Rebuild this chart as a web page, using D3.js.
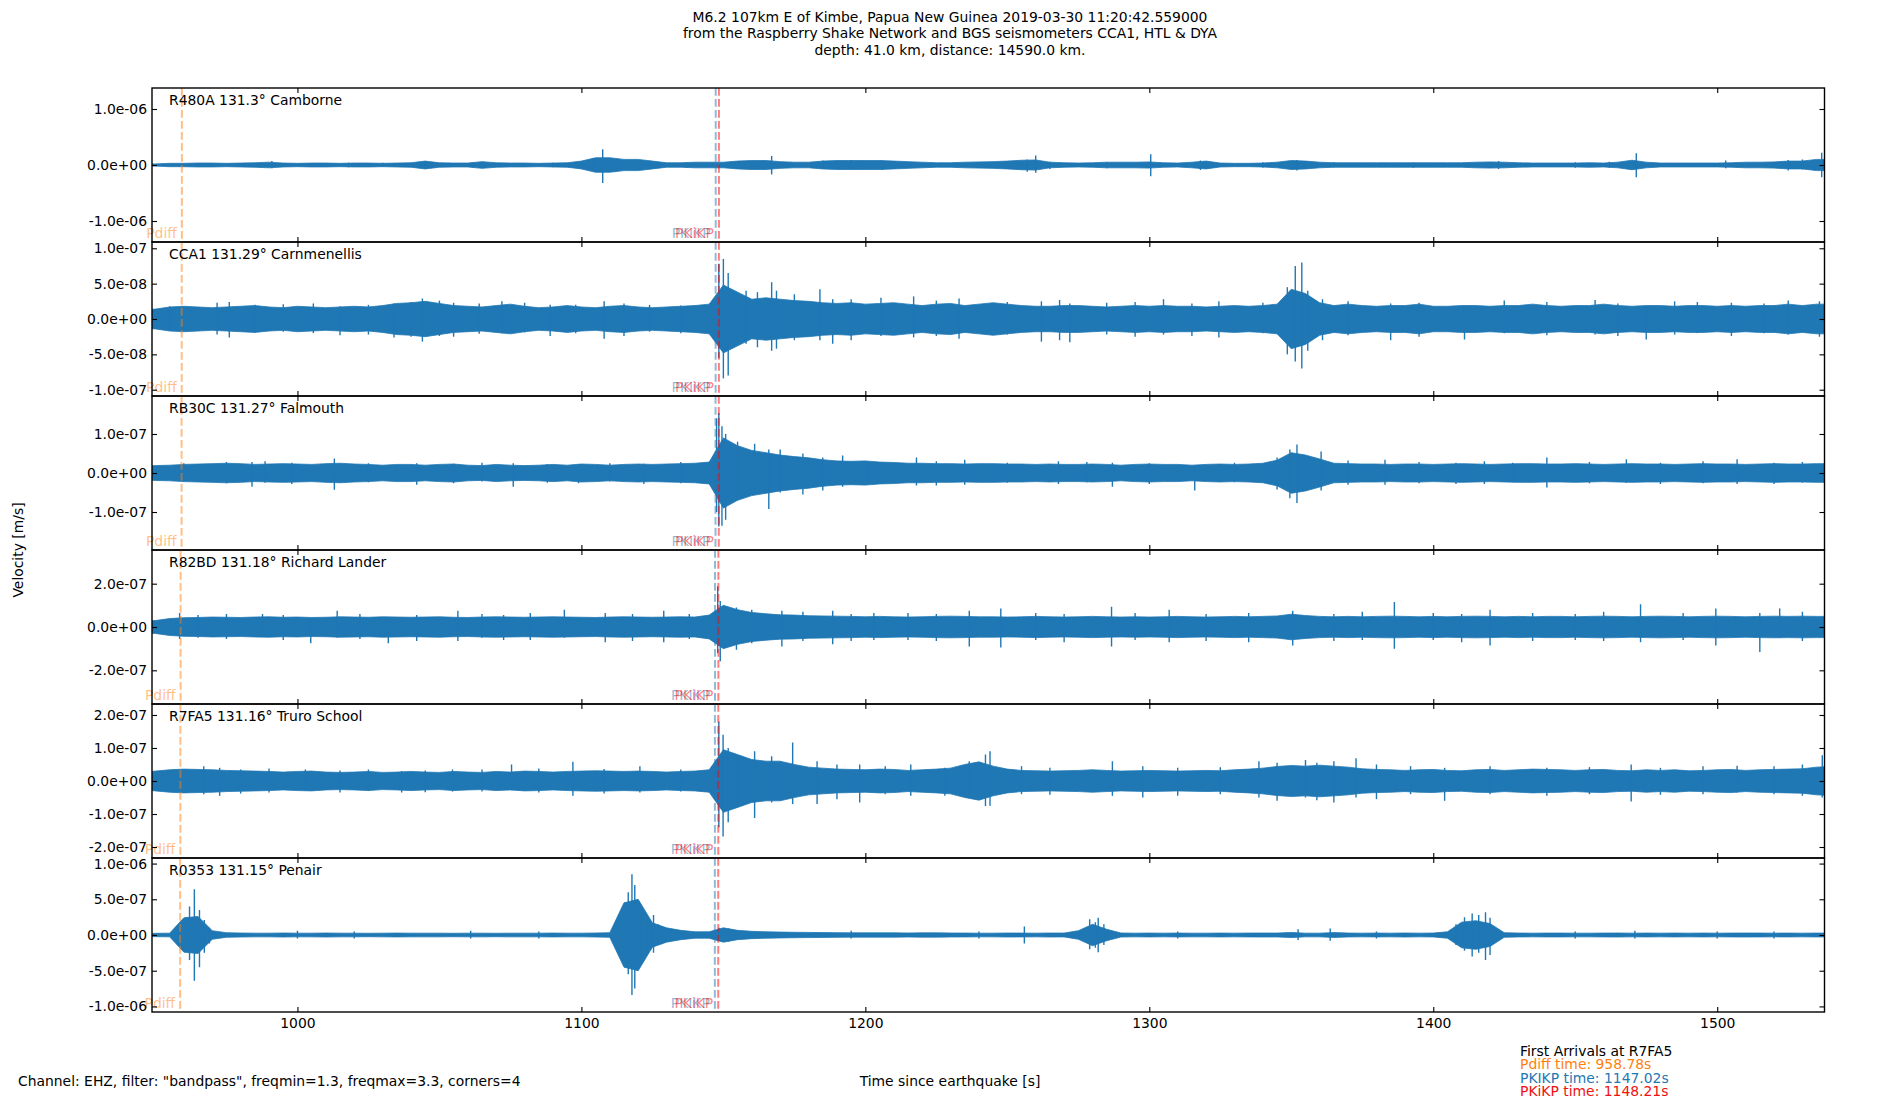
<!DOCTYPE html>
<html>
<head>
<meta charset="utf-8">
<script src="https://cdn.jsdelivr.net/npm/d3@7"></script>
<style>
body { margin: 0; background: #fff; }
text { font-family: "DejaVu Sans", sans-serif; font-size: 13.9px; }
</style>
</head>
<body>
<div id="chart"></div>
<script>
var stations = ["R480A", "CCA1", "RB30C", "R82BD", "R7FA5", "R0353"];
var distances = ["131.3", "131.29", "131.27", "131.18", "131.16", "131.15"];
var places = ["Camborne", "Carnmenellis", "Falmouth", "Richard Lander", "Truro School", "Penair"];

// arrival times [s] per station
var pdiffTimes = [959.3, 959.25, 959.2, 958.85, 958.78, 958.7];
var pkikpTimes = [1147.3, 1147.27, 1147.23, 1147.06, 1147.02, 1147.0];
var pkikpInnerTimes = [1148.43, 1148.42, 1148.38, 1148.24, 1148.21, 1148.19];

var yLimits = [1.375e-6, 1.089e-7, 1.974e-7, 3.556e-7, 2.333e-7, 1.078e-6];
var yTicks = [
    [-1e-6, 0, 1e-6],
    [-1e-7, -5e-8, 0, 5e-8, 1e-7],
    [-1e-7, 0, 1e-7],
    [-2e-7, 0, 2e-7],
    [-2e-7, -1e-7, 0, 1e-7, 2e-7],
    [-1e-6, -5e-7, 0, 5e-7, 1e-6]
];
var xTicks = [1000, 1100, 1200, 1300, 1400, 1500];
var timeRange = [948.78, 1537.78];

// trace envelope half width, in 1e-8 m/s, one value every 5 s starting at 945 s
var envR480A = [
    2, 2, 3, 3, 3.5, 3.5, 3, 3.5, 4, 5, 3.5, 3, 3.5, 3.5, 3, 3.5, 3.5, 3, 3.5, 4,
    7, 4, 3.5, 3.5, 6, 4, 3.5, 3.5, 3, 3.5, 4, 7, 13, 13, 10, 10, 7, 4, 4, 5,
    5, 5, 7, 8, 8, 6, 5, 5, 7, 8, 8, 8, 8, 7, 6, 5, 4, 4, 5, 5.5,
    6, 7, 8.5, 9, 5, 4, 3.5, 4, 5, 5, 5, 5.5, 4, 3.5, 5, 7, 3.5, 3, 3, 3.5,
    5, 8, 7, 5, 4, 4, 4, 4, 4, 4, 4, 4, 4, 4, 5, 5.5, 5, 4, 3.5, 3.5,
    3.5, 3.5, 4, 3.5, 5, 8.5, 5, 3.5, 3.5, 3.5, 3.5, 3.5, 4, 5, 5, 5.5, 7, 7, 10, 10
];
var envCCA1 = [
    1.3, 1.4, 1.7, 1.8, 1.7, 1.6, 1.7, 1.8, 1.9, 1.7, 1.6, 1.8, 1.7, 1.6, 1.7, 1.8, 1.7, 1.9, 2.2, 2.3,
    2.5, 2.2, 1.9, 1.8, 1.7, 1.9, 2.1, 1.8, 1.6, 1.7, 1.9, 1.7, 1.6, 1.8, 1.9, 1.7, 1.6, 1.7, 1.8, 1.9,
    2.1, 4.8, 3.8, 2.8, 3.0, 2.8, 2.6, 2.5, 2.3, 2.2, 2.3, 2.1, 2.2, 2.3, 2.1, 1.9, 2.1, 2.2, 1.9, 2.1,
    2.3, 2.1, 1.9, 1.8, 1.8, 1.9, 1.9, 1.8, 1.7, 1.8, 1.9, 1.8, 1.9, 1.8, 1.8, 1.7, 1.8, 1.9, 1.8, 1.9,
    2.1, 4.2, 3.6, 2.3, 1.9, 2.1, 1.9, 1.8, 1.9, 1.9, 2.1, 1.8, 1.8, 1.9, 1.9, 1.8, 1.9, 1.9, 2.1, 1.9,
    1.8, 1.9, 1.9, 2.1, 1.9, 1.8, 1.9, 1.9, 1.8, 1.9, 1.9, 1.8, 1.9, 1.8, 1.9, 1.9, 2.1, 1.9, 2.1, 2.1
];
var envRB30C = [
    1.8, 1.9, 2.0, 2.2, 2.3, 2.4, 2.5, 2.4, 2.2, 2.3, 2.4, 2.3, 2.2, 2.4, 2.5, 2.3, 2.2, 2.0, 2.2, 2.2,
    2.0, 2.2, 2.3, 2.0, 1.9, 2.2, 2.0, 1.9, 2.0, 2.2, 2.0, 2.3, 2.2, 2.0, 2.2, 2.3, 2.2, 2.3, 2.4, 2.5,
    2.8, 9, 7, 5.8, 5.2, 4.6, 4.2, 3.9, 3.4, 3.1, 3.0, 3.1, 2.8, 2.7, 2.5, 2.5, 2.4, 2.4, 2.3, 2.4,
    2.4, 2.3, 2.3, 2.2, 2.3, 2.2, 2.2, 2.3, 2.2, 2.0, 2.2, 2.3, 2.2, 2.2, 2.0, 2.2, 2.3, 2.2, 2.3, 2.5,
    3.3, 5.2, 4.6, 3.6, 2.5, 2.4, 2.3, 2.3, 2.2, 2.3, 2.3, 2.2, 2.3, 2.4, 2.3, 2.2, 2.3, 2.4, 2.4, 2.3,
    2.3, 2.4, 2.3, 2.2, 2.3, 2.4, 2.3, 2.3, 2.2, 2.3, 2.4, 2.3, 2.3, 2.2, 2.3, 2.4, 2.3, 2.3, 2.4, 2.4
];
var envR82BD = [
    2.7, 3.0, 3.9, 4.3, 4.4, 4.6, 4.5, 4.4, 4.6, 4.7, 4.5, 4.6, 4.4, 4.5, 4.7, 4.6, 4.5, 4.7, 4.6, 4.5,
    4.6, 4.7, 4.5, 4.4, 4.6, 4.7, 4.6, 4.5, 4.6, 4.7, 4.6, 4.5, 4.4, 4.6, 4.7, 4.6, 4.5, 4.6, 4.7, 4.6,
    5.5, 10, 8, 6.7, 6.1, 5.6, 5.5, 5.2, 5.1, 5.0, 4.9, 4.7, 4.9, 4.7, 4.6, 4.7, 4.9, 5.0, 4.9, 4.7,
    4.7, 4.6, 4.7, 4.9, 4.7, 4.6, 4.7, 4.9, 4.7, 4.6, 4.7, 4.6, 4.7, 4.9, 4.7, 4.6, 4.7, 4.9, 4.7, 4.9,
    5.1, 5.9, 5.3, 4.9, 4.7, 4.9, 4.7, 4.9, 5.0, 4.9, 4.7, 4.9, 4.7, 4.9, 5.0, 4.9, 4.7, 4.9, 4.7, 4.9,
    4.9, 4.7, 4.9, 5.0, 4.9, 4.7, 4.9, 5.0, 4.9, 4.7, 4.9, 5.0, 4.9, 4.7, 4.9, 5.0, 4.9, 5.0, 4.9, 4.9
];
var envR7FA5 = [
    2.6, 3.0, 3.4, 3.6, 3.5, 3.4, 3.2, 3.1, 3.0, 2.9, 2.7, 2.9, 3.0, 2.7, 2.6, 2.7, 2.9, 2.6, 2.7, 2.9,
    2.7, 2.6, 2.9, 2.7, 2.6, 2.9, 2.7, 3.0, 2.9, 2.7, 2.9, 3.0, 3.1, 3.0, 2.9, 3.0, 2.9, 2.7, 2.9, 3.0,
    3.4, 9.5, 8, 6.5, 6, 6, 5, 4.2, 3.9, 3.6, 3.5, 3.4, 3.6, 3.5, 3.2, 3.4, 3.6, 3.9, 5, 5.8,
    4.5, 3.6, 3.2, 3.1, 3.0, 3.1, 3.2, 3.4, 3.2, 3.0, 3.1, 3.2, 3.1, 3.0, 3.1, 3.2, 3.1, 3.4, 3.6, 3.9,
    4.4, 4.7, 4.5, 4.8, 4.5, 4.2, 3.7, 3.5, 3.4, 3.2, 3.4, 3.5, 3.2, 3.1, 3.4, 3.5, 3.2, 3.4, 3.6, 3.5,
    3.4, 3.2, 3.4, 3.5, 3.2, 3.1, 3.4, 3.2, 3.4, 3.1, 3.2, 3.4, 3.5, 3.2, 3.4, 3.5, 3.6, 3.7, 4.2, 4.4
];
var envR0353 = [
    2.0, 2.3, 2.6, 24, 26, 6, 3.2, 2.8, 2.6, 2.6, 2.8, 2.6, 2.6, 2.8, 2.6, 2.6, 2.4, 2.6, 2.7, 2.6,
    2.6, 2.6, 2.4, 2.6, 2.6, 2.4, 2.6, 2.6, 2.6, 2.7, 2.6, 2.6, 2.8, 3.2, 45, 50, 17, 10, 6.5, 4.5,
    4.5, 10, 6.5, 5.1, 4.5, 4.1, 3.8, 3.6, 3.4, 3.2, 3.0, 3.0, 3.0, 3.0, 2.8, 3.0, 3.0, 2.8, 2.7, 2.6,
    2.6, 2.8, 2.7, 2.6, 2.8, 2.7, 6, 15, 8, 2.8, 2.6, 2.7, 2.6, 2.7, 2.6, 2.6, 2.7, 2.6, 2.7, 2.8,
    2.7, 3.6, 2.6, 2.6, 3.4, 2.7, 2.6, 2.7, 2.6, 2.8, 2.6, 2.7, 4.5, 18, 20, 16, 3.2, 2.7, 2.6, 2.7,
    2.7, 2.6, 2.6, 2.7, 2.8, 2.6, 2.7, 2.6, 2.7, 2.6, 2.7, 2.6, 2.7, 2.8, 2.7, 2.6, 2.7, 2.6, 2.7, 2.6
];

// single peaks: [time s, up, down] in 1e-8 m/s
var spikesR480A = [[991, 7, 6], [1018, 4, 4], [1030, 4, 3], [1045, 6, 6], [1062, 5, 5], [1090, 4, 4],
    [1104, 12, 10], [1107.5, 28, 32], [1112, 10, 12], [1137, 4, 5], [1160, 7, 8], [1167, 16, 17],
    [1185, 8, 7], [1195, 9, 8], [1206, 8, 9], [1257, 10, 12], [1260, 17, 14], [1265, 6, 7], [1285, 5, 6],
    [1300.5, 19, 20], [1318, 8, 9], [1340, 5, 5], [1352, 9, 10], [1365, 5, 4], [1393, 4, 5], [1423, 7, 7],
    [1450, 5, 5], [1462, 6, 5], [1471.5, 21, 22], [1503, 8, 6], [1525, 9, 10], [1530, 10, 8], [1536.8, 22, 22]];
var spikesCCA1 = [[955, 1.8, 1.6], [971.7, 2.3, 2.2], [976, 2.4, 2.6], [985, 2.0, 1.9], [995, 2.1, 1.8],
    [1005.6, 2.2, 2.0], [1015, 1.8, 2.3], [1025, 2.0, 2.2], [1034, 2.2, 2.6], [1040, 2.4, 2.5], [1044, 2.9, 3.2],
    [1050, 2.6, 2.4], [1055, 2.3, 2.5], [1064, 2.2, 2.1], [1072, 2.5, 2.0], [1080, 2.3, 1.9], [1089, 2.0, 2.4],
    [1098, 2.0, 2.0], [1108, 2.5, 2.8], [1115, 2.2, 2.4], [1124, 2.0, 1.8], [1135, 1.9, 2.0],
    [1148.4, 7.8, 5.5], [1150, 8.5, 8.4], [1151.7, 6.5, 8.0], [1153.6, 4.0, 3.5], [1158, 4.0, 3.5],
    [1162, 3.8, 4.0], [1167, 5.2, 4.5], [1168.7, 4.0, 4.2], [1175, 3.5, 3.0], [1184, 4.2, 3.0],
    [1188.5, 2.8, 3.5], [1195, 2.8, 3.0], [1205.5, 3.0, 2.4], [1217, 3.2, 2.6], [1225, 2.6, 2.4],
    [1233, 2.9, 2.8], [1250, 2.4, 2.2], [1262, 2.5, 3.2], [1268.4, 2.7, 3.0], [1272, 2.2, 3.3],
    [1285, 2.3, 2.2], [1295, 2.4, 2.5], [1305, 2.8, 2.2], [1315, 2.2, 2.4], [1324.5, 2.5, 2.6],
    [1340, 2.3, 2.0], [1348.6, 4.5, 5.0], [1351.4, 7.5, 6.0], [1353.7, 8.0, 7.0], [1355.8, 4.0, 4.5],
    [1361, 2.8, 3.0], [1370, 2.5, 2.3], [1385, 2.2, 3.0], [1395, 2.3, 2.5], [1411, 1.8, 2.9],
    [1425, 2.6, 2.0], [1440, 2.4, 2.3], [1457, 2.7, 2.2], [1465, 2.2, 2.4], [1475, 1.8, 2.9],
    [1485, 2.5, 2.2], [1493, 2.4, 2.0], [1505, 2.3, 2.4], [1516.5, 2.2, 2.0], [1525, 2.6, 2.2], [1536, 2.5, 2.5]];
var spikesRB30C = [[960, 2.5, 2.2], [975, 2.8, 2.6], [984, 2.8, 3.5], [988.6, 3.0, 2.5], [998, 2.6, 2.8],
    [1013, 3.7, 4.3], [1025, 2.5, 2.4], [1042, 2.5, 3.0], [1055, 2.4, 2.6], [1065, 2.6, 2.2], [1076, 2.5, 3.5],
    [1088, 2.3, 2.5], [1099, 2.3, 2.6], [1110, 2.5, 2.2], [1122, 2.4, 2.8], [1135, 2.8, 2.6],
    [1147.6, 14.0, 10.0], [1148.4, 15.4, 13.7], [1149.5, 12.0, 13.5], [1150.8, 10.0, 12.0], [1155, 8.0, 7.0],
    [1161, 7.5, 5.5], [1166, 6.0, 9.2], [1170, 6.0, 5.0], [1178, 5.0, 5.5], [1185, 4.0, 4.5], [1192, 4.5, 3.5],
    [1201, 3.0, 2.8], [1218, 4.0, 3.2], [1225, 3.0, 3.2], [1235, 3.4, 3.0], [1250, 2.6, 2.5], [1268, 3.0, 2.8],
    [1278, 2.8, 2.4], [1287, 2.6, 3.5], [1300, 2.5, 2.8], [1316, 1.8, 4.5], [1330, 2.6, 2.4], [1345, 4.0, 4.2],
    [1349.5, 6.0, 6.5], [1352, 7.3, 7.7], [1360.5, 5.5, 4.5], [1370, 3.2, 3.0], [1383, 3.4, 3.0],
    [1395, 2.8, 2.6], [1408, 2.6, 2.8], [1418, 3.0, 2.8], [1428, 2.6, 2.4], [1440, 4.0, 3.7], [1455, 2.8, 2.6],
    [1468, 3.5, 2.5], [1480, 2.6, 2.8], [1495, 3.0, 2.6], [1507, 3.5, 2.8], [1520, 2.6, 2.8], [1530, 2.8, 2.5]];
var spikesR82BD = [[958.5, 6.5, 5.5], [965, 5.5, 5.0], [975, 6.0, 5.5], [987.7, 6.0, 4.5], [995, 5.5, 6.0],
    [1004.7, 4.0, 7.5], [1014, 7.5, 5.0], [1022, 6.0, 5.5], [1032, 4.5, 7.5], [1042, 5.5, 6.5],
    [1056.5, 7.5, 6.5], [1065, 6.0, 5.0], [1072.6, 5.5, 6.0], [1082, 6.5, 6.0], [1094, 8.0, 5.0],
    [1108.4, 6.5, 7.0], [1118, 6.0, 6.5], [1129, 7.5, 7.0], [1138, 6.0, 5.5], [1148, 18.8, 12.0],
    [1148.9, 12.0, 15.8], [1154.6, 9.0, 10.5], [1160, 8.0, 7.5], [1170.6, 7.5, 9.0], [1178, 7.0, 6.5],
    [1188.5, 7.5, 8.0], [1195, 6.0, 6.5], [1203, 6.5, 6.0], [1215, 6.5, 6.0], [1225, 6.0, 6.5],
    [1236.6, 7.5, 9.0], [1247.7, 8.5, 9.5], [1260, 6.5, 6.0], [1270, 6.0, 7.0], [1286.7, 9.3, 9.0],
    [1295, 6.5, 6.0], [1307, 8.0, 7.0], [1320, 6.0, 6.5], [1335, 6.5, 7.0], [1350.5, 7.5, 8.5],
    [1365, 6.0, 6.5], [1375, 7.0, 6.0], [1386.3, 11.5, 10.0], [1400, 6.5, 6.0], [1410, 6.0, 7.0],
    [1420, 8.0, 8.5], [1435, 6.5, 6.5], [1450, 6.0, 6.0], [1460, 7.0, 6.5], [1473, 10.5, 7.0],
    [1488, 6.5, 6.0], [1499.5, 8.5, 8.5], [1515, 6.5, 11.5], [1522, 8.5, 5.0], [1530, 7.0, 6.5]];
var spikesR7FA5 = [[967, 4.5, 4.0], [972.6, 4.0, 4.5], [980, 3.5, 3.8], [990, 3.8, 3.5], [1002.8, 3.5, 3.0],
    [1015, 3.2, 3.5], [1025, 3.5, 3.0], [1036.7, 3.0, 3.5], [1045, 3.2, 3.4], [1054.6, 3.5, 3.2],
    [1065, 3.5, 3.2], [1075.4, 5.0, 2.8], [1085, 3.8, 3.5], [1097, 5.8, 4.5], [1108, 3.6, 3.8],
    [1120.6, 4.5, 3.5], [1135, 3.5, 3.2], [1148.4, 18.0, 14.0], [1149.9, 14.0, 16.8], [1151.7, 10.0, 12.5],
    [1155, 7.0, 8.0], [1161, 9.0, 11.2], [1167, 7.5, 6.5], [1174.4, 11.7, 7.0], [1183, 6.0, 7.0],
    [1190, 5.0, 5.5], [1198, 5.0, 6.5], [1207, 4.5, 4.0], [1216, 5.0, 4.5], [1228, 4.0, 4.5],
    [1236.6, 6.0, 4.0], [1242.3, 8.0, 7.6], [1243.9, 9.0, 7.5], [1255, 4.5, 4.0], [1265, 4.0, 4.2],
    [1287, 6.0, 4.5], [1297.7, 4.5, 5.0], [1310, 4.0, 4.5], [1325, 4.2, 4.0], [1338.6, 6.0, 5.0],
    [1345, 5.5, 6.0], [1355, 6.4, 5.0], [1359, 5.5, 5.8], [1365, 6.0, 6.5], [1372.8, 6.9, 5.0],
    [1380, 5.0, 5.5], [1392, 4.5, 4.0], [1404, 4.0, 6.0], [1420, 4.5, 4.0], [1440, 4.0, 4.5],
    [1455, 4.2, 4.0], [1469.7, 5.0, 6.2], [1480, 4.0, 4.2], [1495, 4.5, 4.0], [1507, 4.6, 3.5],
    [1520, 4.5, 4.0], [1530, 5.0, 4.5], [1537, 7.8, 5.0]];
var spikesR0353 = [[961, 25, 20], [962, 40, 35], [963.7, 64, 64], [965.5, 35, 45], [967.2, 21, 25], [969, 10, 12],
    [1000, 6, 5], [1020, 5, 5], [1061, 6, 5], [1085, 5, 5], [1115.5, 37, 30], [1116.5, 60, 55],
    [1117.8, 85, 84], [1118.8, 70, 75], [1119.7, 47, 50], [1121, 30, 35], [1123, 22, 25], [1124.5, 18, 20],
    [1125.4, 28, 25], [1127, 15, 12], [1128, 12, 10], [1148.5, 10, 8], [1152, 9, 9], [1195, 6, 5],
    [1240, 5, 5], [1256, 12, 12], [1279, 22, 20], [1281, 18, 18], [1282, 24, 24], [1284, 15, 14],
    [1310, 5, 5], [1352.4, 8, 7], [1363.7, 9, 8], [1380, 5, 5], [1408, 15, 14], [1411, 25, 22],
    [1413.7, 30, 30], [1416, 28, 25], [1418.4, 32, 35], [1420, 24, 28], [1421, 12, 10], [1450, 5, 5],
    [1471, 6, 5], [1500, 5, 5], [1520, 5, 5]];

var envelopes = [envR480A, envCCA1, envRB30C, envR82BD, envR7FA5, envR0353];
var spikes = [spikesR480A, spikesCCA1, spikesRB30C, spikesR82BD, spikesR7FA5, spikesR0353];
var envStart = 945, envStep = 5, unit = 1e-8;

var titleLines = [
    "M6.2 107km E of Kimbe, Papua New Guinea 2019-03-30 11:20:42.559000",
    "from the Raspberry Shake Network and BGS seismometers CCA1, HTL & DYA",
    "depth: 41.0 km, distance: 14590.0 km."
];
var arrivalLines = [
    ["First Arrivals at R7FA5", "#000000"],
    ["Pdiff time: 958.78s", "#ff7f0e"],
    ["PKIKP time: 1147.02s", "#1f77b4"],
    ["PKiKP time: 1148.21s", "#ee1111"]
];

var W = 1900, H = 1100;
var plotLeft = 152, plotRight = 1824.5, plotTop = 88, panelH = 154;
var blue = "#1f77b4";

var svg = d3.select("#chart").append("svg")
    .attr("width", W)
    .attr("height", H);

var x = d3.scaleLinear().domain(timeRange).range([plotLeft, plotRight]);

function sci(v) {
    if (v === 0) return "0.0e+00";
    var parts = v.toExponential(1).split("e");
    var e = parseInt(parts[1]);
    var ea = Math.abs(e);
    return parts[0] + "e" + (e < 0 ? "-" : "+") + (ea < 10 ? "0" + ea : ea);
}

stations.forEach(function (name, i) {
    var y0 = plotTop + i * panelH;
    var y = d3.scaleLinear().domain([-yLimits[i], yLimits[i]]).range([y0 + panelH, y0]);

    svg.append("clipPath").attr("id", "clip" + i)
        .append("rect")
        .attr("x", plotLeft).attr("y", y0)
        .attr("width", plotRight - plotLeft).attr("height", panelH);

    var g = svg.append("g").attr("clip-path", "url(#clip" + i + ")");

    var env = envelopes[i].map(function (a, k) {
        return {t: envStart + k * envStep, a: a * unit};
    });
    var area = d3.area()
        .x(function (d) { return x(d.t); })
        .y0(function (d) { return y(-d.a); })
        .y1(function (d) { return y(d.a); });

    g.append("path")
        .attr("d", area(env))
        .attr("fill", blue)
        .attr("stroke", blue)
        .attr("stroke-width", 0.8);

    g.selectAll("line.spike")
        .data(spikes[i])
        .enter().append("line")
        .attr("class", "spike")
        .attr("x1", function (d) { return x(d[0]); })
        .attr("x2", function (d) { return x(d[0]); })
        .attr("y1", function (d) { return y(d[1] * unit); })
        .attr("y2", function (d) { return y(-d[2] * unit); })
        .attr("stroke", blue)
        .attr("stroke-width", 1.4);

    // arrival markers
    var marks = [
        [pdiffTimes[i], "#ff7f0e", "Pdiff"],
        [pkikpTimes[i], "#1f77b4", "PKIKP"],
        [pkikpInnerTimes[i], "#ff0000", "PKiKP"]
    ];
    marks.forEach(function (m) {
        g.append("line")
            .attr("x1", x(m[0])).attr("x2", x(m[0]))
            .attr("y1", y0).attr("y2", y0 + panelH)
            .attr("stroke", m[1])
            .attr("stroke-opacity", 0.5)
            .attr("stroke-width", 2)
            .attr("stroke-dasharray", "7.7,3.3");
        svg.append("text")
            .attr("x", x(m[0]) - 5)
            .attr("y", y0 + panelH - 4)
            .attr("text-anchor", "end")
            .attr("fill", m[1])
            .attr("fill-opacity", 0.5)
            .text(m[2]);
    });

    svg.append("text")
        .attr("x", plotLeft + 17)
        .attr("y", y0 + 17)
        .text(name + " " + distances[i] + "\u00b0 " + places[i]);

    // axes, ticks pointing inward
    var ax = svg.append("g").attr("class", "axes");
    ax.append("g")
        .attr("transform", "translate(" + plotLeft + ",0)")
        .call(d3.axisLeft(y).tickValues(yTicks[i]).tickSize(-5).tickPadding(5).tickFormat(sci));
    ax.append("g")
        .attr("transform", "translate(" + plotRight + ",0)")
        .call(d3.axisRight(y).tickValues(yTicks[i]).tickSize(-5).tickFormat(""));
    ax.append("g")
        .attr("transform", "translate(0," + y0 + ")")
        .call(d3.axisTop(x).tickValues(xTicks).tickSize(-5).tickFormat(""));
    var bottomAxis = ax.append("g")
        .attr("transform", "translate(0," + (y0 + panelH) + ")")
        .call(d3.axisBottom(x).tickValues(xTicks).tickSize(-5).tickPadding(6).tickFormat(d3.format("d")));
    if (i < stations.length - 1) bottomAxis.selectAll("text").remove();

    ax.selectAll(".domain").remove();
    ax.selectAll(".tick line").attr("stroke", "#000").attr("stroke-width", 1.1);
    ax.selectAll(".tick text")
        .attr("fill", "#000")
        .style("font-family", "DejaVu Sans")
        .style("font-size", "13.9px");

    svg.append("rect")
        .attr("x", plotLeft).attr("y", y0)
        .attr("width", plotRight - plotLeft).attr("height", panelH)
        .attr("fill", "none")
        .attr("stroke", "#000")
        .attr("stroke-width", 1.4);
});

svg.selectAll("text.title")
    .data(titleLines)
    .enter().append("text")
    .attr("class", "title")
    .attr("x", W / 2)
    .attr("y", function (d, k) { return 21.5 + k * 16.7; })
    .attr("text-anchor", "middle")
    .text(function (d) { return d; });

svg.append("text")
    .attr("transform", "translate(18," + (H / 2) + ") rotate(-90)")
    .attr("text-anchor", "middle")
    .attr("dominant-baseline", "central")
    .text("Velocity [m/s]");

svg.append("text")
    .attr("x", 18)
    .attr("y", 1086)
    .text('Channel: EHZ, filter: "bandpass", freqmin=1.3, freqmax=3.3, corners=4');

svg.append("text")
    .attr("x", W / 2)
    .attr("y", 1086)
    .attr("text-anchor", "middle")
    .text("Time since earthquake [s]");

svg.selectAll("text.arrivals")
    .data(arrivalLines)
    .enter().append("text")
    .attr("class", "arrivals")
    .attr("x", 1520)
    .attr("y", function (d, k) { return 1056 + k * 13.4; })
    .attr("fill", function (d) { return d[1]; })
    .text(function (d) { return d[0]; });
</script>
</body>
</html>
